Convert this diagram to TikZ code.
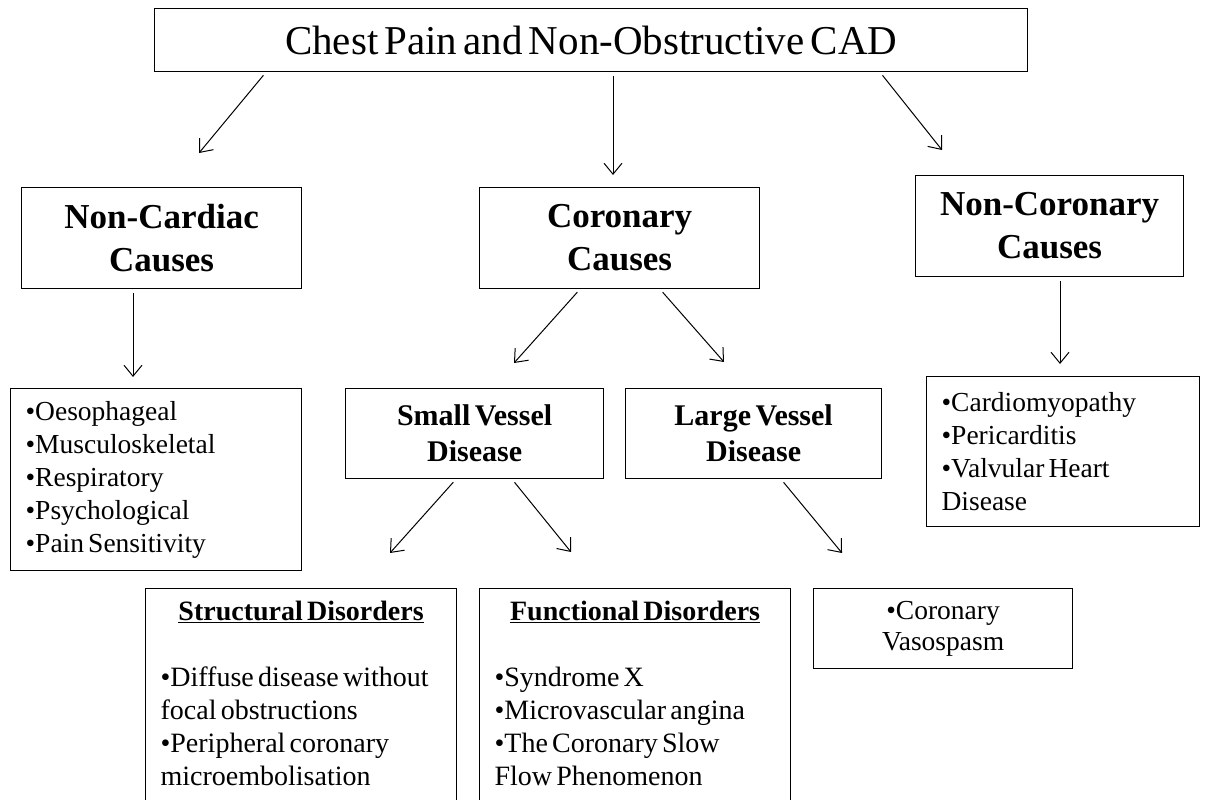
\documentclass[tikz,border=0pt]{standalone}
\usepackage{fontspec}
\setmainfont{Liberation Serif}[WordSpace=0.6]
\usetikzlibrary{arrows.meta}

\begin{document}
\begin{tikzpicture}[x=1pt, y=-1pt,
    box/.style={draw, line width=1.2pt, anchor=north west, inner sep=0pt},
    head/.style={box, align=center, font=\bfseries\fontsize{35}{43}\selectfont},
    vessel/.style={box, align=center, font=\bfseries\fontsize{30}{36}\selectfont},
    list/.style={box, align=flush left, inner xsep=15pt, font=\fontsize{27.5}{33}\selectfont},
    arr/.style={-{Straight Barb[length=11pt,width=18pt]}, line width=1pt, shorten <=4pt}
    ]

    \useasboundingbox (0,0) rectangle (1213,800);
    \clip (0,0) rectangle (1213,800);

    \node[box, minimum width=873pt, minimum height=63pt, font=\fontsize{41}{49}\selectfont] (title) at (154,8) {Chest Pain and Non-Obstructive CAD};

    \node[head, minimum width=280pt, minimum height=101pt] (noncard) at (21,187) {Non-Cardiac\\Causes};
    \node[head, minimum width=280pt, minimum height=101pt] (cor) at (479,187) {Coronary\\Causes};
    \node[head, minimum width=268pt, minimum height=101pt] (noncor) at (915,175) {Non-Coronary\\Causes};

    \node[list, text width=261pt, minimum height=182pt] (noncardlist) at (10,388) {•Oesophageal\\•Musculoskeletal\\•Respiratory\\•Psychological\\•Pain Sensitivity};
    \node[vessel, minimum width=258pt, minimum height=90pt] (small) at (345,388) {Small Vessel\\Disease};
    \node[vessel, minimum width=256pt, minimum height=90pt] (large) at (625,388) {Large Vessel\\Disease};
    \node[list, text width=243pt, minimum height=150pt] (noncorlist) at (926,376) {•Cardiomyopathy\\•Pericarditis\\•Valvular Heart\\Disease};

    \node[list, inner ysep=12pt, text width=281pt, font=\fontsize{28}{33}\selectfont] (struct) at (145,588) {\makebox[\linewidth]{\textbf{\underline{Structural Disorders}}}\\[33pt]•Diffuse disease without\\focal obstructions\\•Peripheral coronary\\microembolisation\rule[-30pt]{0pt}{30pt}};
    \node[list, inner ysep=12pt, text width=281pt, font=\fontsize{28}{33}\selectfont] (func) at (479,588) {\makebox[\linewidth]{\textbf{\underline{Functional Disorders}}}\\[33pt]•Syndrome X\\•Microvascular angina\\•The Coronary Slow\\Flow Phenomenon\rule[-30pt]{0pt}{30pt}};
    \node[box, align=center, minimum width=259pt, minimum height=80pt, font=\fontsize{27.5}{31}\selectfont] (vaso) at (813,588) {•Coronary\\Vasospasm};

    \coordinate (toNoncard) at (199,153);
    \coordinate (toCor) at (613,175);
    \coordinate (toNoncor) at (942,150);
    \coordinate (toNoncardlist) at (133,377);
    \coordinate (toSmall) at (514,363);
    \coordinate (toLarge) at (724,362);
    \coordinate (toNoncorlist) at (1060,364);
    \coordinate (toStruct) at (390,553);
    \coordinate (toFunc) at (571,552);
    \coordinate (toVaso) at (842,553);

    \draw[arr] ([xshift=112pt]title.south west) -- (toNoncard);
    \draw[arr] ([xshift=459pt]title.south west) -- (toCor);
    \draw[arr] ([xshift=726pt]title.south west) -- (toNoncor);
    \draw[arr] ([xshift=112pt]noncard.south west) -- (toNoncardlist);
    \draw[arr] ([xshift=101pt]cor.south west) -- (toSmall);
    \draw[arr] ([xshift=181pt]cor.south west) -- (toLarge);
    \draw[arr] ([xshift=145pt]noncor.south west) -- (toNoncorlist);
    \draw[arr] ([xshift=111pt]small.south west) -- (toStruct);
    \draw[arr] ([xshift=167pt]small.south west) -- (toFunc);
    \draw[arr] ([xshift=156pt]large.south west) -- (toVaso);
    %
\end{tikzpicture}
\end{document}
